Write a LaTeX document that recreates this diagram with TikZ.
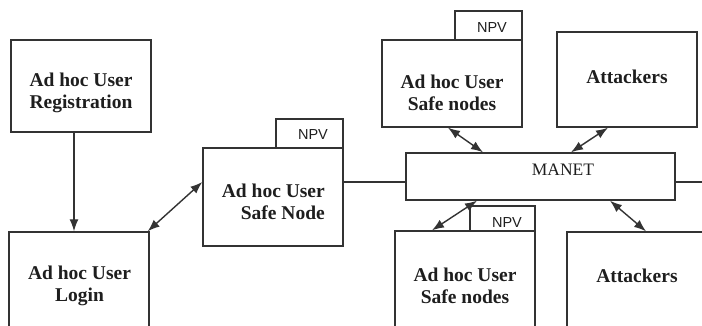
\documentclass[tikz,border=0pt]{standalone}
\usepackage{fontspec}
\setmainfont{Liberation Serif}
\newfontfamily\npvfont{Liberation Sans}
\usetikzlibrary{arrows.meta,calc}
\definecolor{ln}{HTML}{333333}
\definecolor{tx}{HTML}{1E1E1E}
\begin{document}
\begin{tikzpicture}[x=1pt,y=-1pt,
  box/.style={draw=ln,line width=1.4pt,rectangle,inner sep=0pt,fill=white},
  btext/.style={text=tx,align=center,inner sep=0pt,font=\fontsize{19.5}{22}\selectfont\bfseries},
  npvtext/.style={text=tx,inner sep=0pt,font=\npvfont\fontsize{14.5}{16}\selectfont},
  conn/.style={draw=ln,line width=1.4pt},
  biarr/.style={conn,{Latex[length=12pt,width=9pt]}-{Latex[length=12pt,width=9pt]}},
  onearr/.style={conn,-{Latex[length=12pt,width=9pt]}}]
\useasboundingbox (0,0) rectangle (702,326);
\clip (0,0) rectangle (702,326);
\fill[white] (0,0) rectangle (702,326);
% boxes
\node[box,minimum width=140pt,minimum height=92pt] (reg) at (81,86) {};
\node[box,minimum width=140pt,minimum height=100pt] (login) at (79,282) {};
\node[box,minimum width=67pt,minimum height=29pt] (npv1) at (309.5,133.5) {};
\node[box,minimum width=140pt,minimum height=98pt] (safe) at (273,197) {};
\node[box,minimum width=67pt,minimum height=29pt] (npv2) at (488.5,25.5) {};
\node[box,minimum width=140pt,minimum height=87pt] (tsn) at (452,83.5) {};
\node[box,minimum width=140pt,minimum height=95pt] (tatt) at (627,79.5) {};
\node[box,minimum width=269pt,minimum height=47pt] (manet) at (540.5,176.5) {};
\node[box,minimum width=65pt,minimum height=25pt] (npv3) at (502.5,218.5) {};
\node[box,minimum width=140pt,minimum height=100pt] (bsn) at (465,281) {};
\node[box,minimum width=140pt,minimum height=100pt] (batt) at (637,282) {};
\coordinate (rightend) at (704,182);
% texts
\node[btext] (regt) at (81,93) {Ad hoc User\\Registration};
\node[btext] (logint) at (79.5,286) {Ad hoc User\\Login};
\node[btext,align=right,anchor=east] (safet) at (325,201.5) {Ad hoc User\\Safe Node};
\node[btext] (tsnt) at (452,93) {Ad hoc User\\Safe nodes};
\node[btext] (tattt) at (627,77) {Attackers};
\node[btext] (bsnt) at (465,286) {Ad hoc User\\Safe nodes};
\node[btext] (battt) at (637,276) {Attackers};
\node[text=tx,inner sep=0pt,font=\fontsize{17.5}{20}\selectfont] (manett) at (563,170) {MANET};
\node[npvtext] (npv1t) at (313,135) {NPV};
\node[npvtext] (npv2t) at (492,28) {NPV};
\node[npvtext] (npv3t) at (507,223) {NPV};
% connectors
\draw[onearr] ([xshift=-7pt]reg.south) -- ([xshift=-5pt]login.north);
\draw[biarr] ([xshift=-2pt]login.north east) -- ([yshift=15pt]safe.west);
\draw[conn] ([yshift=15pt]safe.east) -- ([yshift=-5.5pt]manet.west);
\draw[conn] ([yshift=-5.5pt]manet.east) -- (rightend);
\draw[biarr] ([xshift=-4pt]tsn.south) -- ([xshift=-57.5pt]manet.north);
\draw[biarr] ([xshift=-19pt]tatt.south) -- ([xshift=30.5pt]manet.north);
\draw[biarr] ([xshift=-63.5pt]manet.south) -- ([xshift=-33pt]bsn.north);
\draw[biarr] ([xshift=69.5pt]manet.south) -- ([xshift=9pt]batt.north);
\end{tikzpicture}
\end{document}
